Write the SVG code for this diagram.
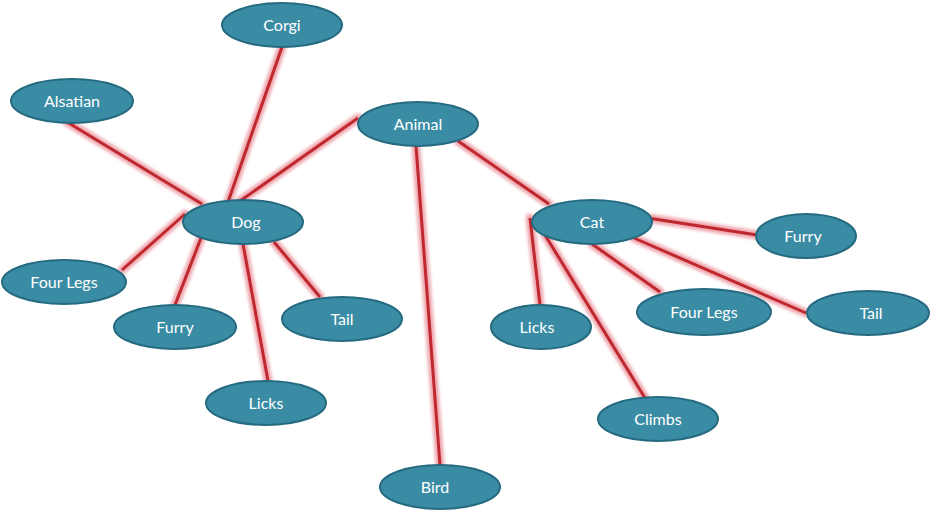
<svg xmlns="http://www.w3.org/2000/svg" width="930" height="511" viewBox="0 0 930 511">
<defs>
<style>
.node ellipse{fill:#3a8ca4;stroke:#256a80;stroke-width:2}
.node text{font-family:"Lato","Open Sans","Liberation Sans",sans-serif;font-size:16px;fill:#ffffff;text-anchor:middle;dominant-baseline:central}
.glow line{stroke:#e8848e;stroke-width:9;stroke-opacity:0.7;stroke-linecap:round}
.core line{stroke:#c0282f;stroke-width:3;stroke-linecap:butt}
</style>
<filter id="blur" x="-20%" y="-20%" width="140%" height="140%"><feGaussianBlur stdDeviation="1.5"/></filter>
</defs>
<g id="connectors">
<g class="glow" filter="url(#blur)">
<line x1="282" y1="47" x2="228" y2="202"/>
<line x1="67" y1="122" x2="202" y2="204"/>
<line x1="358" y1="118" x2="240" y2="201"/>
<line x1="185" y1="214" x2="122" y2="270"/>
<line x1="201" y1="238" x2="175" y2="305"/>
<line x1="243" y1="244" x2="268" y2="381"/>
<line x1="274" y1="242" x2="320" y2="297"/>
<line x1="416" y1="146" x2="440" y2="465"/>
<line x1="458" y1="141" x2="549" y2="204"/>
<line x1="648" y1="218" x2="757" y2="235"/>
<line x1="530" y1="218" x2="540" y2="305"/>
<line x1="545" y1="235" x2="645" y2="398"/>
<line x1="592" y1="244" x2="660" y2="292"/>
<line x1="634" y1="238" x2="806" y2="313"/>
</g>
<g class="core">
<line x1="282" y1="47" x2="228" y2="202"/>
<line x1="67" y1="122" x2="202" y2="204"/>
<line x1="358" y1="118" x2="240" y2="201"/>
<line x1="185" y1="214" x2="122" y2="270"/>
<line x1="201" y1="238" x2="175" y2="305"/>
<line x1="243" y1="244" x2="268" y2="381"/>
<line x1="274" y1="242" x2="320" y2="297"/>
<line x1="416" y1="146" x2="440" y2="465"/>
<line x1="458" y1="141" x2="549" y2="204"/>
<line x1="648" y1="218" x2="757" y2="235"/>
<line x1="530" y1="218" x2="540" y2="305"/>
<line x1="545" y1="235" x2="645" y2="398"/>
<line x1="592" y1="244" x2="660" y2="292"/>
<line x1="634" y1="238" x2="806" y2="313"/>
</g>
</g>
<g id="corgi" class="node"><ellipse cx="282" cy="25" rx="60" ry="22"/><text x="282" y="24">Corgi</text></g>
<g id="alsatian" class="node"><ellipse cx="72" cy="101" rx="61" ry="22"/><text x="72" y="100">Alsatian</text></g>
<g id="animal" class="node"><ellipse cx="418" cy="124" rx="60" ry="22"/><text x="418" y="123">Animal</text></g>
<g id="dog" class="node"><ellipse cx="243" cy="222" rx="60" ry="22"/><text x="246" y="221">Dog</text></g>
<g id="cat" class="node"><ellipse cx="592" cy="222" rx="60" ry="22"/><text x="592" y="221">Cat</text></g>
<g id="cat-furry" class="node"><ellipse cx="806" cy="236" rx="50" ry="22"/><text x="803" y="235">Furry</text></g>
<g id="dog-fourlegs" class="node"><ellipse cx="64" cy="282" rx="62" ry="22"/><text x="64" y="281">Four Legs</text></g>
<g id="dog-furry" class="node"><ellipse cx="175" cy="327" rx="61" ry="22"/><text x="175" y="326">Furry</text></g>
<g id="dog-tail" class="node"><ellipse cx="342" cy="319" rx="60" ry="22"/><text x="342" y="318">Tail</text></g>
<g id="cat-licks" class="node"><ellipse cx="541" cy="327" rx="50" ry="22"/><text x="537" y="326">Licks</text></g>
<g id="cat-fourlegs" class="node"><ellipse cx="704" cy="312" rx="67" ry="23"/><text x="704" y="311">Four Legs</text></g>
<g id="cat-tail" class="node"><ellipse cx="868" cy="313" rx="61" ry="22"/><text x="871" y="312">Tail</text></g>
<g id="dog-licks" class="node"><ellipse cx="266" cy="403" rx="60" ry="22"/><text x="266" y="402">Licks</text></g>
<g id="climbs" class="node"><ellipse cx="658" cy="419" rx="60" ry="22"/><text x="658" y="418">Climbs</text></g>
<g id="bird" class="node"><ellipse cx="440" cy="487" rx="60" ry="22"/><text x="435" y="486">Bird</text></g>
</svg>
